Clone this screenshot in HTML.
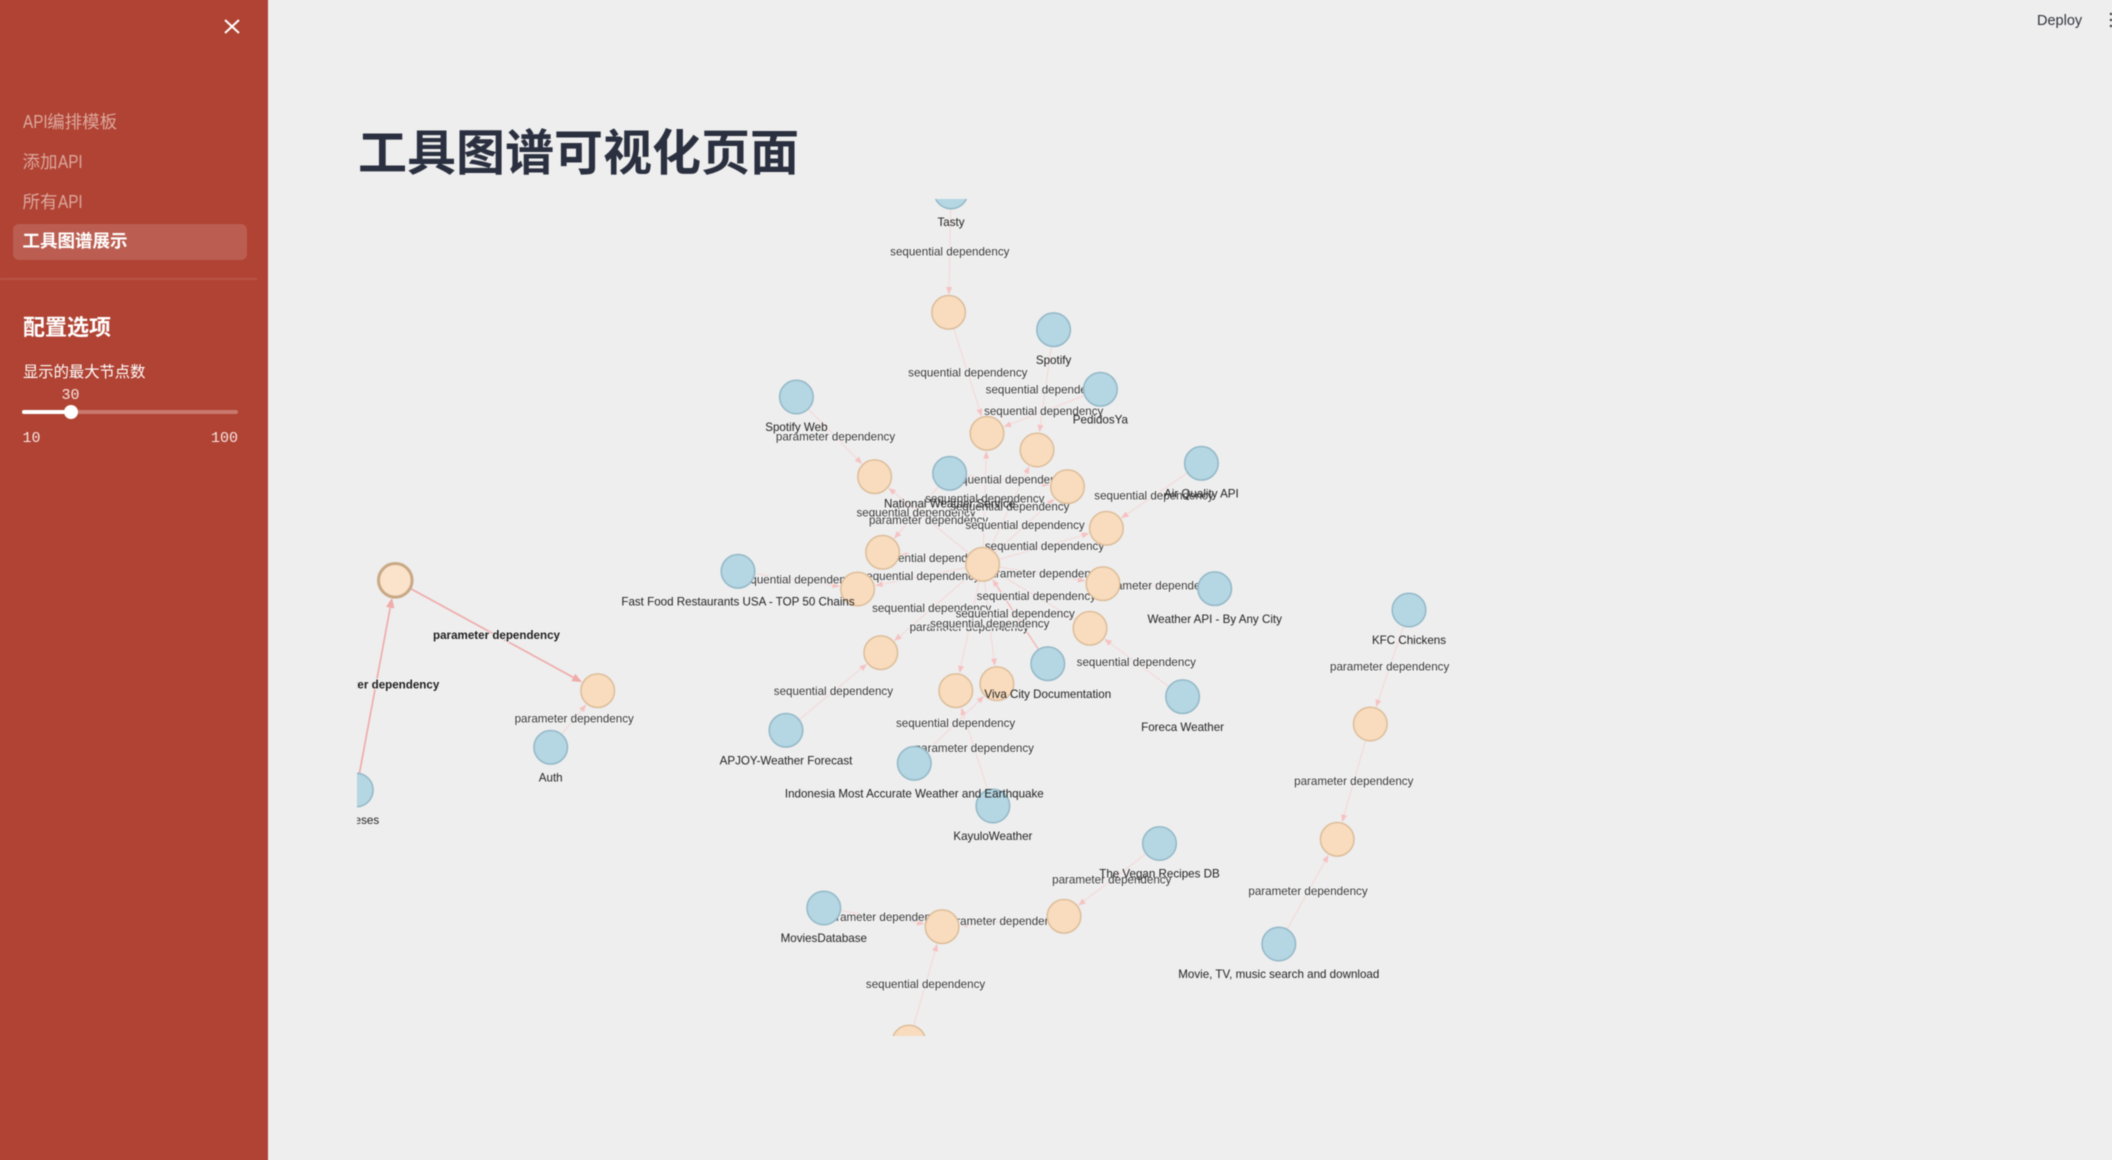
<!DOCTYPE html>
<html lang="zh">
<head>
<meta charset="utf-8">
<title>工具图谱可视化页面</title>
<style>
html,body{margin:0;padding:0;width:2112px;height:1160px;overflow:hidden;background:#eeeeee;font-family:"Liberation Sans","Noto Sans CJK SC",sans-serif;}
#frame{position:relative;width:2112px;height:1160px;overflow:hidden;contain:strict;}
#app{position:absolute;left:-10px;top:-10px;width:2132px;height:1180px;overflow:hidden;filter:blur(.45px);background:#eeeeee;}
#stage{position:absolute;left:10px;top:10px;width:2112px;height:1160px;}
#sidebar{position:absolute;left:-10px;top:-10px;width:278px;height:1180px;background:#b04333;color:#fff;}
#sidebar-inner{position:absolute;left:10px;top:10px;width:268px;height:1160px;}
.abs{position:absolute;white-space:nowrap;line-height:1;}
.nav{left:22.5px;font-size:17.5px;color:#dda89f;}
.nav .lat{display:inline-block;font-size:18px;transform:scaleX(.85);transform-origin:left center;margin-right:-4.4px;}
#active-bg{position:absolute;left:13px;top:224px;width:234px;height:36px;border-radius:6px;background:#bb5e51;}
#divider{position:absolute;left:0;top:278px;width:257px;height:2px;background:#ba5446;}
.mono{font-family:"Liberation Mono",monospace;font-size:15px;color:#f7e6e3;}
#track{position:absolute;left:22px;top:410px;width:216px;height:4px;border-radius:2px;background:#c9786d;}
#fill{position:absolute;left:22px;top:410px;width:48px;height:4px;border-radius:2px;background:#fff;}
#thumb{position:absolute;left:63.5px;top:405px;width:14px;height:14px;border-radius:50%;background:#fff;}
#title{left:358px;top:123px;font-size:49px;font-weight:700;color:#2b3040;font-family:"Noto Sans CJK SC",sans-serif;line-height:54px;}
#deploy{left:2037px;top:14px;font-size:14.5px;color:#31333f;}
#graph{position:absolute;left:0;top:0;}
</style>
</head>
<body>
<div id="frame">
<div id="app">
<div id="stage">
  <div id="sidebar">
   <div id="sidebar-inner">
    <svg class="abs" style="left:224px;top:19px" width="16" height="15"><path d="M1 1L15 14M15 1L1 14" stroke="#fff" stroke-width="2" fill="none"/></svg>
    <div class="abs nav" style="top:113px"><span class="lat">API</span>编排模板</div>
    <div class="abs nav" style="top:153px">添加<span class="lat">API</span></div>
    <div class="abs nav" style="top:193px">所有<span class="lat">API</span></div>
    <div id="active-bg"></div>
    <div class="abs nav" style="top:233px;color:#fff;font-weight:700">工具图谱展示</div>
    <div id="divider"></div>
    <div class="abs" style="left:23px;top:317px;font-size:22px;font-weight:700;color:#fff">配置选项</div>
    <div class="abs" style="left:23px;top:365px;font-size:15.3px;color:#fff">显示的最大节点数</div>
    <div class="abs mono" style="left:61.5px;top:388px">30</div>
    <div id="track"></div>
    <div id="fill"></div>
    <div id="thumb"></div>
    <div class="abs mono" style="left:22.5px;top:431px">10</div>
    <div class="abs mono" style="right:30px;top:431px">100</div>
   </div>
  </div>
  <div class="abs" id="title">工具图谱可视化页面</div>
  <div class="abs" id="deploy">Deploy</div>
  <svg class="abs" style="left:2108px;top:12px" width="4" height="16"><circle cx="3" cy="2" r="1.2" fill="#31333f"/><circle cx="3" cy="8" r="1.2" fill="#31333f"/><circle cx="3" cy="14" r="1.2" fill="#31333f"/></svg>
  <svg id="graph" width="2112" height="1160" xmlns="http://www.w3.org/2000/svg">
    <defs><clipPath id="canvas-clip"><rect x="357" y="199" width="1755" height="837"/></clipPath></defs>
    <g id="viewport" clip-path="url(#canvas-clip)"></g>
  </svg>
</div>
</div>
</div>
<script>
// Node data (layout coordinates from the force layout)
const nodeIds = ["tasty","o1","o2","o3","spotify","pedidos","spotifyWeb","o4","nws","o5","air","o6","o7","o8","o9","fastFood","o10","weatherApi","o11","o12","viva","o13","o14","foreca","apjoy","indonesia","kayulo","vegan","o15","o16","auth","proteses","kfc","o17","o18","movie","o19","o20","movies","o21"];
const nodeLabels = ["Tasty","","","","Spotify","PedidosYa","Spotify Web","","National Weather Service","","Air Quality API","","","","","Fast Food Restaurants USA - TOP 50 Chains","","Weather API - By Any City","","","Viva City Documentation","","","Foreca Weather","APJOY-Weather Forecast","Indonesia Most Accurate Weather and Earthquake","KayuloWeather","The Vegan Recipes DB","","","Auth","Proteses","KFC Chickens","","","Movie, TV, music search and download","","","MoviesDatabase",""];
const nodeKinds = ["api","task","task","task","api","api","api","task","api","task","api","task","task","task","task","api","task","api","task","task","api","task","task","api","api","api","api","api","task","task","api","api","api","task","task","api","task","task","api","task"];
const nodeLayoutX = [594,591.6,630,680,696.6,743.4,439.4,517.6,592.6,710.5,844.4,749.4,525.6,625.6,500.6,381,746,857.7,733,523.8,690.8,598.8,639.9,825.6,429,557.3,635.9,802.5,38.3,240.7,193.7,-0.7,1052,1013.3,980.2,921.8,707,585.1,466.8,552];
const nodeLayoutY = [-7,113.3,234.3,251,130.7,190.3,198,277.7,274.3,287.7,264.3,329.3,353.3,365.3,390,372.3,384.7,389.7,429.3,453.7,464.7,491.7,484.7,497.7,531.3,564.3,607,644.5,381.3,491.7,548.3,591,411,525,640.3,745,717.3,727.7,709,843];

// Edge data
const edgeSources = ["tasty","o1","spotify","pedidos","spotifyWeb","air","nws","o8","o8","o8","o8","o8","o8","o8","nws","fastFood","o8","weatherApi","o8","o8","viva","o8","o8","foreca","apjoy","kayulo","indonesia","auth","o15","proteses","kfc","o17","movie","vegan","o19","movies","o21"];
const edgeTargets = ["o1","o2","o3","o2","o4","o6","o7","o4","o2","o3","o5","o6","o7","o9","o5","o9","o10","o10","o11","o12","o8","o13","o14","o11","o12","o13","o14","o16","o16","o15","o17","o18","o18","o19","o20","o20","o20"];
const edgeTypes = ["sequential","sequential","sequential","sequential","parameter","sequential","sequential","parameter","sequential","sequential","sequential","sequential","sequential","sequential","sequential","sequential","parameter","parameter","sequential","sequential","sequential","parameter","sequential","sequential","sequential","parameter","sequential","parameter","parameter","parameter","parameter","parameter","parameter","parameter","parameter","parameter","sequential"];

const selectedNode = "o15";
const CANVAS_LEFT = 357, CANVAS_TOP = 199, ZOOM = 1, R = 16.8;
const sx = v => CANVAS_LEFT + v * ZOOM;
const sy = v => CANVAS_TOP + v * ZOOM;
const SVGNS = "http://www.w3.org/2000/svg";
const root = document.getElementById("viewport");
function mk(tag, attrs, parent) {
  const el = document.createElementNS(SVGNS, tag);
  for (const k in attrs) el.setAttribute(k, attrs[k]);
  parent.appendChild(el);
  return el;
}
function pos(id) {
  const i = nodeIds.indexOf(id);
  return [sx(nodeLayoutX[i]), sy(nodeLayoutY[i])];
}
const edgeLayer = mk("g", {}, root);
const labelLayer = mk("g", {}, root);
const nodeLayer = mk("g", {}, root);
const nodeLabelLayer = mk("g", {}, root);

edgeSources.forEach((s, i) => {
  const t = edgeTargets[i];
  const [x1, y1] = pos(s), [x2, y2] = pos(t);
  const hot = s === selectedNode || t === selectedNode;
  const strong = s === "viva";
  const col = hot ? "#f0abab" : (strong ? "#f3b8b8" : "#f6d8d8");
  const w = hot ? 1.7 : (strong ? 1.4 : 1.1);
  const d = Math.hypot(x2 - x1, y2 - y1), ux = (x2 - x1) / d, uy = (y2 - y1) / d;
  const tipX = x2 - ux * (R + 1), tipY = y2 - uy * (R + 1);
  const len = hot ? 10 : 7.5, hw = hot ? 4.2 : 3;
  const bx = tipX - ux * len, by = tipY - uy * len;
  const line = mk("line", {x1: x1, y1: y1, x2: bx, y2: by, stroke: col, "stroke-width": w}, edgeLayer);
  
  
  const head = mk("polygon", {points: tipX + "," + tipY + " " + (bx - uy * hw) + "," + (by + ux * hw) + " " + (bx + uy * hw) + "," + (by - ux * hw), fill: hot ? "#f0abab" : "#f6c2c2"}, edgeLayer);
  
  
  const txt = mk("text", {x: (x1 + x2) / 2, y: (y1 + y2) / 2, "text-anchor": "middle", "dominant-baseline": "central", "font-size": 11.6, "font-family": '"Liberation Sans",sans-serif', "font-weight": hot ? 700 : 400, fill: hot ? "#1c1c1c" : "#383838", stroke: "#f3f3f3", "stroke-width": 2, "paint-order": "stroke"}, labelLayer);
  txt.textContent = edgeTypes[i] + " dependency";
  
  
});

nodeIds.forEach((id, i) => {
  const x = sx(nodeLayoutX[i]), y = sy(nodeLayoutY[i]);
  const api = nodeKinds[i] === "api", sel = id === selectedNode;
  const c = mk("circle", {cx: x, cy: y, r: R, fill: api ? "#b5d6e3" : (sel ? "#fae2cb" : "#f9dcbd"), stroke: api ? "#93b8c7" : (sel ? "#c9a985" : "#dcbd9a"), "stroke-width": sel ? 3 : 1.5}, nodeLayer);
  
  
  if (nodeLabels[i]) {
    const t = mk("text", {x: x, y: y + 30.7, "text-anchor": "middle", "dominant-baseline": "central", "font-size": 11.6, "font-family": '"Liberation Sans",sans-serif', fill: "#222"}, nodeLabelLayer);
    t.textContent = nodeLabels[i];
    
    
  }
});
</script>
</body>
</html>
